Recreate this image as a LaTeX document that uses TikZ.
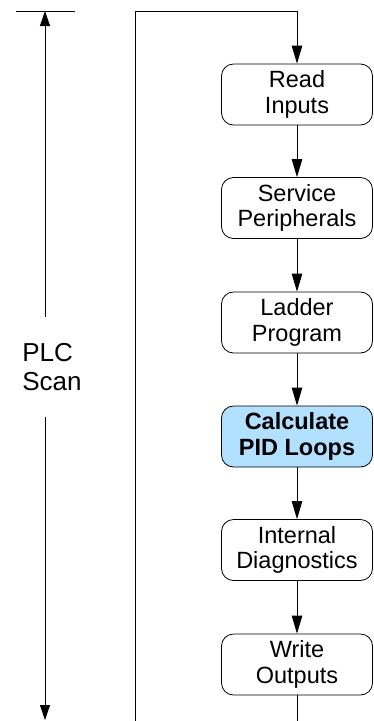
\documentclass[tikz,border=0pt]{standalone}
\usepackage{fontspec}
\setmainfont{Liberation Sans}
\usetikzlibrary{arrows.meta}
\definecolor{pidblue}{RGB}{178,224,255}

\begin{document}
\begin{tikzpicture}[x=1pt, y=-1pt,
		box/.style={draw, line width=0.8pt, rounded corners=12pt, minimum width=151pt, minimum height=61pt, inner sep=0pt, align=center, font=\fontsize{23.5}{25.5}\selectfont},
		pidbox/.style={box, fill=pidblue, font=\fontsize{23.5}{25.5}\selectfont\bfseries},
		flow/.style={line width=0.8pt, -{Triangle[length=18pt, width=10.5pt]}},
		span/.style={line width=0.8pt, -{Triangle[length=15pt, width=10pt]}}]
			%%%%% START %%%%%
			
			\useasboundingbox (0, 0) rectangle (373, 721);
			
			% scan length
			\coordinate (tickl) at (16, 11);
			\coordinate (tickr) at (75, 11);
			\coordinate (scantop) at (45, 11);
			\coordinate (scanbot) at (45, 720);
			\draw[line width=0.8pt] (tickl) -- (tickr);
			\node[align=left, minimum height=100pt, inner sep=0pt, font=\fontsize{26}{29}\selectfont] (scan) at (52, 367) {PLC\\Scan};
			\draw[span] (scan.north -| scantop) -- (scantop);
			\draw[span] (scan.south -| scanbot) -- (scanbot);
			
			% steps
			\node[box] (read) at (297, 94.5) {Read\\Inputs};
			\node[box] (serv) at (297, 208) {Service\\Peripherals};
			\node[box] (ladder) at (297, 322.5) {Ladder\\Program};
			\node[pidbox] (pid) at (297, 436.5) {Calculate\\PID Loops};
			\node[box] (diag) at (297, 550) {Internal\\Diagnostics};
			\node[box] (write) at (297, 664.5) {Write\\Outputs};
			
			\draw[flow] (read) -- (serv);
			\draw[flow] (serv) -- (ladder);
			\draw[flow] (ladder) -- (pid);
			\draw[flow] (pid) -- (diag);
			\draw[flow] (diag) -- (write);
			
			% loop back
			\coordinate (loopend) at (297, 721);
			\coordinate (loopstart) at (135, 721);
			\coordinate (loopcorner) at (135, 11);
			\draw[line width=0.8pt] (write) -- (loopend);
			\draw[flow] (loopstart) -- (loopcorner) -| (read.north);
			
			%%%%% END %%%%%
		\end{tikzpicture}
\end{document}
